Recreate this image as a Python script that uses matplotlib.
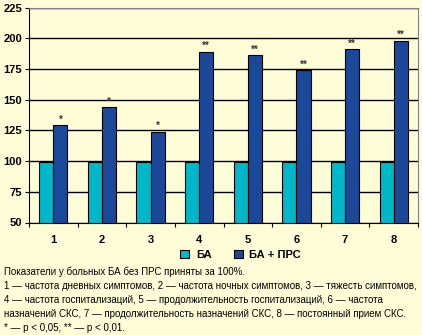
import numpy as np
import matplotlib.pyplot as plt

plt.rcParams['font.family'] = ['Liberation Sans', 'DejaVu Sans']

groups = ['1', '2', '3', '4', '5', '6', '7', '8']
ba = [99, 99, 99, 99, 99, 99, 99, 99]
ba_prs = [129, 144, 124, 189, 186, 174, 191, 198]
marks = ['*', '*', '*', '**', '**', '**', '**', '**']

yticks = [50, 75, 100, 125, 150, 175, 200, 225]

bg = '#FFFCD8'
c_ba = '#00B7C9'
c_prs = '#1B4899'

fig = plt.figure(figsize=(4.22, 3.35), dpi=100, facecolor=bg)
ax = fig.add_axes([29/422, 1 - 222.5/335, 389/422, 215/335], facecolor=bg)

x = np.arange(len(groups))
w = 0.29
b1 = ax.bar(x - w/2, np.array(ba) - 50, w, bottom=50, color=c_ba, edgecolor='black', linewidth=0.8, zorder=3, label='БА')
b2 = ax.bar(x + w/2, np.array(ba_prs) - 50, w, bottom=50, color=c_prs, edgecolor='black', linewidth=0.8, zorder=3, label='БА + ПРС')

# significance marks above the БА + ПРС bars
for xi, v, m in zip(x, ba_prs, marks):
    ax.text(xi + w/2, v + 4.5, m, ha='center', va='center', fontsize=7, fontweight='bold',
            color='#333333', zorder=4)

ax.set_xlim(-0.5, len(groups) - 0.5)
ax.set_ylim(50, 225)
ax.set_yticks(yticks)
ax.set_yticklabels([str(t) for t in yticks], fontsize=8, fontweight='bold')
ax.yaxis.grid(True, color='black', linewidth=1.0, zorder=0)
ax.set_axisbelow(True)

ax.set_xticks(np.arange(len(groups) + 1) - 0.5)
ax.set_xticklabels([])
ax.set_xticks(x, minor=True)
ax.set_xticklabels(groups, minor=True, fontsize=8, fontweight='bold')
ax.tick_params(axis='x', which='major', length=3, direction='out', width=0.8)
ax.tick_params(axis='x', which='minor', length=0, pad=9)
ax.tick_params(axis='y', length=3, direction='out', width=0.8, pad=2, colors='black')

ax.spines['left'].set_color('black')
ax.spines['bottom'].set_color('black')
ax.spines['top'].set_color('#808080')
ax.spines['right'].set_color('#808080')

fig.legend(handles=[b1, b2], loc='center', bbox_to_anchor=(0.57, 1 - 255/335), ncol=2,
           frameon=False, prop={'weight': 'bold', 'size': 8},
           handlelength=0.8, handleheight=0.8, columnspacing=2.0, handletextpad=0.6)

notes = [
    'Показатели у больных БА без ПРС приняты за 100%.',
    '1 — частота дневных симптомов, 2 — частота ночных симптомов, 3 — тяжесть симптомов,',
    '4 — частота госпитализаций, 5 — продолжительность госпитализаций, 6 — частота',
    'назначений СКС, 7 — продолжительность назначений СКС, 8 — постоянный прием СКС.',
    '* — р < 0,05, ** — р < 0,01.',
]
for i, line in enumerate(notes):
    fig.text(4/422, 1 - (272 + i*14)/335, line, fontsize=7.0, va='center', ha='left')

fig.savefig('out.png', dpi=100, facecolor=bg)
